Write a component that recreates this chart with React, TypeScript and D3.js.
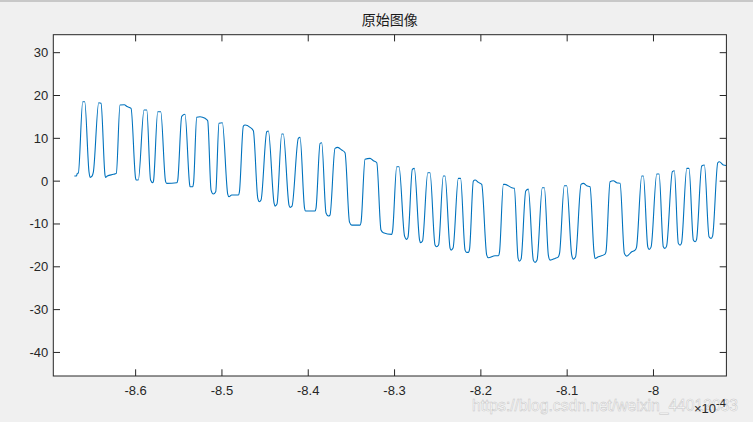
import React from "react";
import * as d3 from "d3";

// Time axis values (in units of 1e-4)
const timeE4: number[] = [
  -8.6710, -8.6685, -8.6676, -8.6664, -8.6613, -8.6590, -8.6540, -8.6528, -8.6505, -8.6490,
  -8.6428, -8.6401, -8.6355, -8.6349, -8.6328, -8.6258, -8.6224, -8.6181, -8.6131, -8.6100,
  -8.6053, -8.6001, -8.5995, -8.5969, -8.5903, -8.5871, -8.5827, -8.5802, -8.5793, -8.5744,
  -8.5709, -8.5654, -8.5640, -8.5524, -8.5512, -8.5466, -8.5428, -8.5375, -8.5370, -8.5338,
  -8.5329, -8.5292, -8.5254, -8.5196, -8.5165, -8.5126, -8.5100, -8.5072, -8.5034, -8.4995,
  -8.4933, -8.4918, -8.4887, -8.4810, -8.4798, -8.4752, -8.4732, -8.4674, -8.4636, -8.4585,
  -8.4567, -8.4547, -8.4481, -8.4462, -8.4396, -8.4385, -8.4362, -8.4307, -8.4289, -8.4223,
  -8.4211, -8.4188, -8.4115, -8.4095, -8.4043, -8.4031, -8.3921, -8.3910, -8.3863, -8.3844,
  -8.3794, -8.3767, -8.3748, -8.3690, -8.3658, -8.3612, -8.3574, -8.3522, -8.3496, -8.3400,
  -8.3388, -8.3342, -8.3284, -8.3246, -8.3206, -8.3157, -8.3130, -8.3033, -8.3023, -8.2975,
  -8.2948, -8.2884, -8.2859, -8.2844, -8.2794, -8.2771, -8.2710, -8.2699, -8.2676, -8.2615,
  -8.2589, -8.2531, -8.2513, -8.2490, -8.2435, -8.2415, -8.2357, -8.2345, -8.2322, -8.2261,
  -8.2235, -8.2183, -8.2164, -8.2145, -8.2131, -8.2087, -8.2067, -8.2029, -8.1990, -8.1932,
  -8.1913, -8.1836, -8.1797, -8.1784, -8.1739, -8.1720, -8.1642, -8.1612, -8.1569, -8.1554,
  -8.1534, -8.1480, -8.1450, -8.1392, -8.1372, -8.1349, -8.1288, -8.1264, -8.1218, -8.1198,
  -8.1140, -8.1102, -8.1088, -8.1033, -8.1005, -8.0947, -8.0928, -8.0903, -8.0839, -8.0812,
  -8.0773, -8.0735, -8.0689, -8.0677, -8.0639, -8.0561, -8.0549, -8.0503, -8.0465, -8.0426,
  -8.0387, -8.0337, -8.0310, -8.0252, -8.0213, -8.0196, -8.0136, -8.0117, -8.0066, -8.0051,
  -8.0028, -7.9962, -7.9935, -7.9886, -7.9868, -7.9848, -7.9781, -7.9758, -7.9712, -7.9692,
  -7.9675, -7.9614, -7.9588, -7.9538, -7.9518, -7.9501, -7.9441, -7.9410, -7.9356, -7.9333,
  -7.9315, -7.9255, -7.9237, -7.9190, -7.9158,
];

// Signal amplitude values
const amplitude: number[] = [
  1.19, 1.19, 1.82, 1.89, 18.55, 18.55, 2.13, 0.89, 1.19, 2.13,
  18.32, 18.18, 1.43, 0.89, 1.19, 1.59, 1.82, 17.78, 17.85, 17.43,
  17.01, 0.73, 0.26, 0.26, 16.61, 16.61, 0.26, -0.37, 0.02, 16.22,
  16.22, 0.02, -0.51, -0.37, 0.26, 15.14, 15.61, -0.68, -1.31, -1.31,
  -0.44, 14.91, 15.05, 14.67, 14.11, -2.08, -3.01, -2.48, 13.51, 13.65,
  -3.01, -3.64, -3.25, -3.25, -2.55, 12.87, 13.11, 12.57, 11.78, -3.95,
  -4.81, -4.41, 11.54, 11.71, -5.12, -5.82, -5.35, 11.01, 11.01, -5.58,
  -6.12, -5.82, 10.0, 10.23, -6.28, -6.98, -6.98, -6.28, 8.83, 8.97,
  -7.45, -8.15, -7.92, 7.66, 7.9, 7.27, 6.64, -9.56, -10.26, -10.26,
  -9.56, 5.09, 5.33, 4.77, 4.3, -11.42, -12.06, -12.43, -11.66, 3.37,
  3.37, -12.83, -13.6, -13.06, 2.76, 2.99, -13.76, -14.39, -13.99, 1.96,
  1.96, -14.93, -15.33, -14.93, 1.19, 1.19, -15.63, -16.1, -15.63, 0.65,
  0.65, -16.1, -16.63, -16.63, -15.86, 0.02, 0.26, -0.28, -0.75, -17.27,
  -17.9, -17.43, -17.43, -16.56, -0.75, -0.75, -1.54, -1.68, -17.97, -18.67,
  -18.2, -2.31, -1.85, -18.43, -18.97, -18.43, -1.54, -1.54, -17.27, -18.43,
  -18.04, -17.66, -16.8, -1.07, -1.07, -17.27, -18.2, -17.73, -0.75, -0.51,
  -1.07, -1.31, -16.56, -18.04, -17.66, -17.03, -16.33, -0.14, 0.09, -0.37,
  -0.51, -16.87, -17.5, -16.49, -16.1, -15.4, 1.19, 1.19, -15.33, -15.93,
  -15.4, 1.66, 1.66, -15.33, -15.7, -15.16, 2.2, 2.43, -14.53, -14.93,
  -14.46, 2.99, 2.99, -13.76, -14.16, -13.64, 3.53, 3.76, -12.99, -13.36,
  -12.83, 4.3, 4.53, 3.76, 3.65,
];

const xTicks: number[] = [-8.6, -8.5, -8.4, -8.3, -8.2, -8.1, -8.0];
const yTicks: number[] = [-40, -30, -20, -10, 0, 10, 20, 30];
const xDomain: [number, number] = [-8.6954, -7.9155];
const yDomain: [number, number] = [-45.5, 34.2];
const titleText = "原始图像";
const exponentBase = "×10";
const exponentPower = "-4";
const watermark = "https://blog.csdn.net/weixin_44012033";

const W = 753;
const H = 422;
const plot = { left: 53.3, right: 726.4, top: 34.7, bottom: 376 };
const tickLen = 6.7;
const axisColor = "#262626";
const font = "'Liberation Sans', Arial, sans-serif";

export default function App() {
  const x = d3.scaleLinear().domain(xDomain).range([plot.left, plot.right]);
  const y = d3.scaleLinear().domain(yDomain).range([plot.bottom, plot.top]);
  const pts: [number, number][] = timeE4.map((t, i) => [t, amplitude[i]]);
  const line = d3
    .line<[number, number]>()
    .x((d) => x(d[0]))
    .y((d) => y(d[1]))
    .curve(d3.curveMonotoneX);
  const fmt = (v: number) => String(+v.toFixed(1));

  return (
    <svg
      width={W}
      height={H}
      style={{ position: "absolute", left: 0, top: 0, display: "block" }}
    >
      <rect x={0} y={0} width={W} height={H} fill="#f0f0f0" />
      <line x1={0} x2={W} y1={1} y2={1} stroke="#a0a0a0" strokeWidth={1} />
      <rect
        x={plot.left}
        y={plot.top}
        width={plot.right - plot.left}
        height={plot.bottom - plot.top}
        fill="#ffffff"
      />
      <defs>
        <clipPath id="plotClip">
          <rect
            x={plot.left}
            y={plot.top}
            width={plot.right - plot.left}
            height={plot.bottom - plot.top}
          />
        </clipPath>
      </defs>
      <path
        d={line(pts) || ""}
        fill="none"
        stroke="#0072bd"
        strokeWidth={1.1}
        clipPath="url(#plotClip)"
      />
      {/* axis box */}
      <rect
        x={plot.left}
        y={plot.top}
        width={plot.right - plot.left}
        height={plot.bottom - plot.top}
        fill="none"
        stroke={axisColor}
        strokeWidth={1}
      />
      {xTicks.map((t) => (
        <g key={"x" + t}>
          <line x1={x(t)} x2={x(t)} y1={plot.bottom} y2={plot.bottom - tickLen} stroke={axisColor} />
          <line x1={x(t)} x2={x(t)} y1={plot.top} y2={plot.top + tickLen} stroke={axisColor} />
          <text
            x={x(t)}
            y={plot.bottom + 14}
            textAnchor="middle"
            dominantBaseline="central"
            fontFamily={font}
            fontSize={13}
            fill={axisColor}
          >
            {fmt(t)}
          </text>
        </g>
      ))}
      {yTicks.map((t) => (
        <g key={"y" + t}>
          <line x1={plot.left} x2={plot.left + tickLen} y1={y(t)} y2={y(t)} stroke={axisColor} />
          <line x1={plot.right} x2={plot.right - tickLen} y1={y(t)} y2={y(t)} stroke={axisColor} />
          <text
            x={plot.left - 5}
            y={y(t)}
            textAnchor="end"
            dominantBaseline="central"
            fontFamily={font}
            fontSize={13}
            fill={axisColor}
          >
            {t}
          </text>
        </g>
      ))}
      <text
        x={(plot.left + plot.right) / 2}
        y={19}
        textAnchor="middle"
        dominantBaseline="central"
        fontFamily="'Noto Sans CJK SC', sans-serif"
        fontSize={14}
        fill="#1a1a1a"
      >
        {titleText}
      </text>
      <text
        x={472}
        y={405}
        dominantBaseline="central"
        fontFamily={font}
        fontSize={16}
        fill="#ffffff"
        stroke="#c4c4c4"
        strokeWidth={0.5}
        textLength={266}
        lengthAdjust="spacingAndGlyphs"
      >
        {watermark}
      </text>
      <text
        x={694}
        y={413}
        fontFamily={font}
        fontSize={13}
        fill={axisColor}
      >
        {exponentBase}
        <tspan dy={-6} fontSize={11}>
          {exponentPower}
        </tspan>
      </text>
    </svg>
  );
}
